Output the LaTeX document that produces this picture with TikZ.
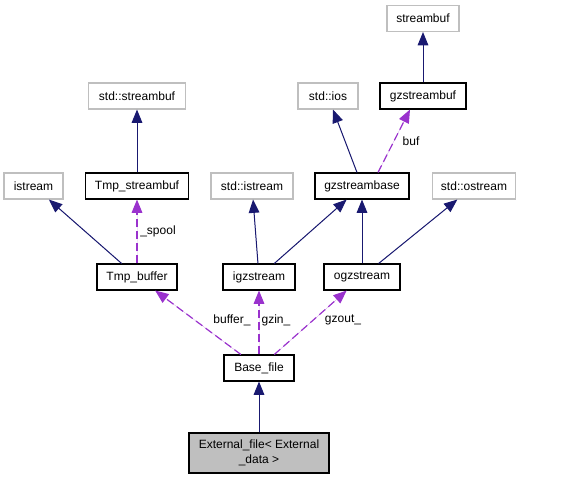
\documentclass[tikz,border=0pt]{standalone}
\usepackage{fontspec}
\setmainfont{Liberation Sans}
\usetikzlibrary{arrows.meta,positioning}
\definecolor{EdgeNavy}{HTML}{191970}
\definecolor{EdgePurple}{HTML}{9A32CD}
\definecolor{ExtGray}{HTML}{BFBFBF}
\tikzset{
    % Base class box
    classnode/.style={
        draw=black,
        fill=white,
        line width=0.8pt,
        minimum height=19.5pt,
        inner xsep=2pt,
        inner ysep=0pt,
        align=center,
        font=\fontsize{9}{11.2}\selectfont
    },
    % Undocumented (external) class
    extnode/.style={
        classnode,
        draw=ExtGray
    },
    % Current class
    focusnode/.style={
        classnode,
        fill=ExtGray,
        minimum height=30pt
    },
    % Inheritance arrow
    inherit/.style={
        -{Triangle[length=10pt,width=8pt]},
        line width=0.75pt,
        draw=EdgeNavy,
        fill=EdgeNavy
    },
    % Usage arrow
    usage/.style={
        -{Triangle[length=10pt,width=8pt]},
        line width=0.9pt,
        dash pattern=on 6pt off 3pt,
        draw=EdgePurple,
        fill=EdgePurple
    },
    % Edge label
    edgelabel/.style={
        font=\fontsize{9}{11.2}\selectfont,
        inner sep=0pt
    }
}
\begin{document}
\begin{tikzpicture}[x=0.75pt, y=-0.75pt]
        \useasboundingbox (0,0) rectangle (575,480);

        % Top row
        \node[extnode, minimum width=54pt] (streambuf) at (423,18.5) {streambuf};

        % Second row
        \node[extnode, minimum width=72.75pt] (stdstreambuf) at (137,96) {std::streambuf};
        \node[extnode, minimum width=45pt] (stdios) at (328,96) {std::ios};
        \node[classnode, minimum width=64.5pt] (gzstreambuf) at (423,96) {gzstreambuf};

        % Third row
        \node[extnode, minimum width=44.25pt] (istream) at (33.5,186) {istream};
        \node[classnode, minimum width=77.25pt] (tmpstreambuf) at (137,186) {Tmp\_streambuf};
        \node[extnode, minimum width=61.5pt] (stdistream) at (252,186) {std::istream};
        \node[classnode, minimum width=70.5pt] (gzstreambase) at (362,186) {gzstreambase};
        \node[extnode, minimum width=62.25pt] (stdostream) at (474,186) {std::ostream};

        % Fourth row
        \node[classnode, minimum width=60pt] (tmpbuffer) at (137,277) {Tmp\_buffer};
        \node[classnode, minimum width=54pt] (igzstream) at (259,277) {igzstream};
        \node[classnode, minimum width=57pt] (ogzstream) at (362,277) {ogzstream};

        % Bottom
        \node[classnode, minimum width=52.5pt] (basefile) at (259,368) {Base\_file};
        \node[focusnode, minimum width=105pt] (extfile) at (259,453) {External\_file\textless{} External\\\_data \textgreater};

        % Inheritance
        \draw[inherit] (gzstreambuf) -- (streambuf);
        \draw[inherit] (tmpstreambuf) -- (stdstreambuf);
        \draw[inherit] ([xshift=-3.75pt]gzstreambase.north) -- ([xshift=3.75pt]stdios.south);
        \draw[inherit] (tmpbuffer) -- (istream);
        \draw[inherit] (igzstream) -- (stdistream);
        \draw[inherit] (igzstream) -- (gzstreambase);
        \draw[inherit] (ogzstream) -- (gzstreambase);
        \draw[inherit] (ogzstream) -- (stdostream);
        \draw[inherit] (extfile) -- (basefile);

        % Usage
        \draw[usage] ([xshift=12pt]gzstreambase.north) -- ([xshift=-9.75pt]gzstreambuf.south);
        \draw[usage] (tmpbuffer) -- (tmpstreambuf);
        \draw[usage] (basefile) -- (tmpbuffer);
        \draw[usage] (basefile) -- (igzstream);
        \draw[usage] (basefile) -- (ogzstream);

        % Labels
        \node[edgelabel] (lbuf) at (411,141) {buf};
        \node[edgelabel] (lspool) at (158,231) {\_spool};
        \node[edgelabel] (lbuffer) at (232,320) {buffer\_};
        \node[edgelabel] (lgzin) at (276,320) {gzin\_};
        \node[edgelabel] (lgzout) at (343,320) {gzout\_};
    \end{tikzpicture}
\end{document}
